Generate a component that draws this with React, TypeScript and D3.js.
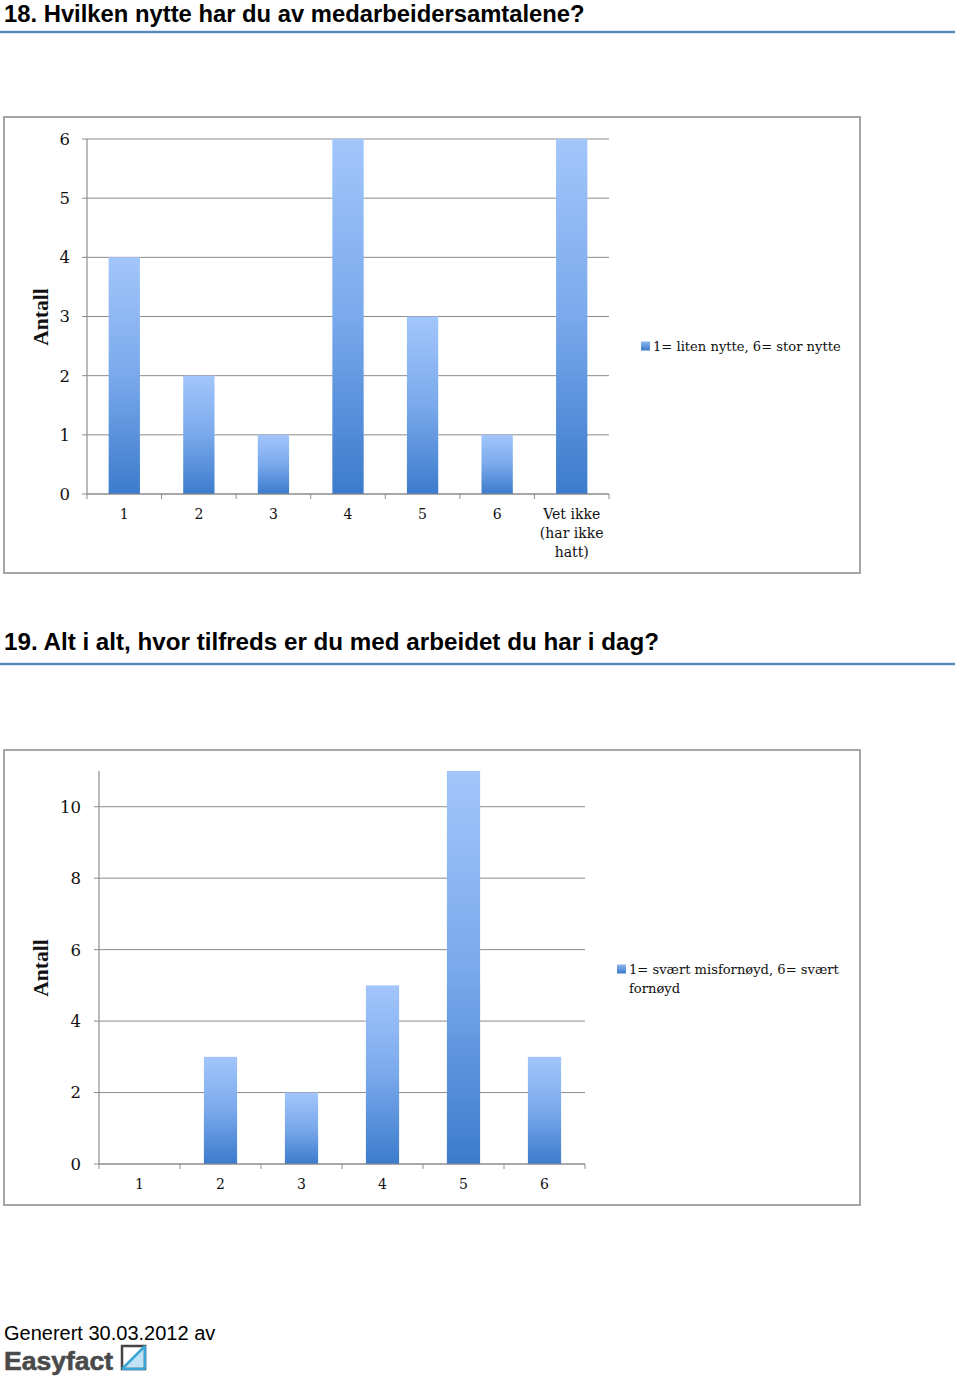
import React from "react";
import * as d3 from "d3";

const cats1 = ["1", "2", "3", "4", "5", "6", "Vet ikke|(har ikke|hatt)"];
const vals1 = [4, 2, 1, 6, 3, 1, 6];
const ticks1 = [0, 1, 2, 3, 4, 5, 6];
const legend1 = ["1= liten nytte, 6= stor nytte"];
const title1 = "18. Hvilken nytte har du av medarbeidersamtalene?";

const cats2 = ["1", "2", "3", "4", "5", "6"];
const vals2 = [0, 3, 2, 5, 11, 3];
const ticks2 = [0, 2, 4, 6, 8, 10];
const legend2 = ["1= svært misfornøyd, 6= svært", "fornøyd"];
const title2 = "19. Alt i alt, hvor tilfreds er du med arbeidet du har i dag?";

const SERIF = "'DejaVu Serif', 'Liberation Serif', serif";
const SERIF2 = "'Liberation Serif', serif";
const SANS = "'Liberation Sans', Arial, Helvetica, sans-serif";

type ChartProps = {
  id: string;
  box: [number, number, number, number];
  x0: number; x1: number; yTop: number; yBottom: number; yMax: number;
  cats: string[]; vals: number[]; ticks: number[];
  barFrac: number; labelX: number; labelY: number;
  legend: string[]; legX: number; legY: number; antallY: number;
};

function Chart(p: ChartProps) {
  const x = d3.scaleBand<string>().domain(p.cats).range([p.x0, p.x1]).paddingInner(0).paddingOuter(0);
  const y = d3.scaleLinear().domain([0, p.yMax]).range([p.yBottom, p.yTop]);
  const bw = x.bandwidth() * p.barFrac;
  const [bx, by, bwid, bh] = p.box;
  return (
    <g>
      <defs>
        <linearGradient id={p.id} x1="0" y1="0" x2="0" y2="1">
          <stop offset="0" stopColor="#a3c6fb" />
          <stop offset="0.5" stopColor="#7aa9ec" />
          <stop offset="1" stopColor="#3c7bcc" />
        </linearGradient>
        <linearGradient id={p.id + "leg"} x1="0" y1="0" x2="0" y2="1">
          <stop offset="0" stopColor="#8db5ef" />
          <stop offset="1" stopColor="#3c7bcc" />
        </linearGradient>
      </defs>
      <rect x={bx} y={by} width={bwid} height={bh} fill="#fff" stroke="#a6a6a6" strokeWidth={2} />
      {p.ticks.map((t) => (
        <g key={t}>
          <line x1={p.x0 - 5} x2={p.x1} y1={y(t)} y2={y(t)} stroke="#8c8c8c" strokeWidth={1} />
          <text x={p.labelX} y={y(t)} dy="0.36em" textAnchor="end" fontFamily={SERIF} fontSize={16.5} fill="#111">{t}</text>
        </g>
      ))}
      {p.cats.map((c, i) => {
        const v = p.vals[i];
        const cx = (x(c) as number) + x.bandwidth() / 2;
        return v > 0 ? (
          <rect key={"b" + i} x={cx - bw / 2} y={y(v)} width={bw} height={y(0) - y(v)} fill={`url(#${p.id})`} />
        ) : null;
      })}
      <line x1={p.x0} x2={p.x0} y1={p.yTop} y2={p.yBottom} stroke="#8c8c8c" strokeWidth={1.2} />
      <line x1={p.x0} x2={p.x1} y1={p.yBottom} y2={p.yBottom} stroke="#8c8c8c" strokeWidth={1.2} />
      {d3.range(p.cats.length + 1).map((i) => {
        const xx = p.x0 + i * x.bandwidth();
        return <line key={"t" + i} x1={xx} x2={xx} y1={p.yBottom} y2={p.yBottom + 5} stroke="#8c8c8c" />;
      })}
      {p.cats.map((c, i) => {
        const cx = (x(c) as number) + x.bandwidth() / 2;
        const lines = c.split("|");
        return (
          <text key={"l" + i} x={cx} y={p.labelY} textAnchor="middle" fontFamily={SERIF} fontSize={14} fill="#111">
            {lines.map((ln, j) => (
              <tspan key={j} x={cx} dy={j === 0 ? "0.36em" : 19}>{ln}</tspan>
            ))}
          </text>
        );
      })}
      <text transform={`translate(48,${p.antallY}) rotate(-90)`} textAnchor="middle" fontFamily={SERIF2} fontWeight="bold" fontSize={21.5} fill="#111">Antall</text>
      <rect x={p.legX} y={p.legY - 4.5} width={9} height={9} fill={`url(#${p.id}leg)`} />
      <text x={p.legX + 12} y={p.legY} fontFamily={SERIF} fontSize={13.1} fill="#111">
        {p.legend.map((ln, j) => (
          <tspan key={j} x={p.legX + 12} dy={j === 0 ? "0.36em" : 19}>{ln}</tspan>
        ))}
      </text>
    </g>
  );
}

export default function App() {
  return (
    <svg width={960} height={1377} style={{ position: "absolute", left: 0, top: 0, background: "#fff" }}>
      <rect width={960} height={1377} fill="#fff" />
      <text x={4} y={21.5} fontFamily={SANS} fontWeight="bold" fontSize={23.8} fill="#000">{title1}</text>
      <line x1={0} x2={955} y1={32} y2={32} stroke="#5b87ba" strokeWidth={2.5} />
      <Chart id="g1" box={[4, 117, 856, 456]} x0={87} x1={609} yTop={139} yBottom={494} yMax={6}
        cats={cats1} vals={vals1} ticks={ticks1} barFrac={0.42} labelX={70} labelY={514}
        legend={legend1} legX={641} legY={346} antallY={317} />
      <text x={4} y={650} fontFamily={SANS} fontWeight="bold" fontSize={24.2} fill="#000">{title2}</text>
      <line x1={0} x2={955} y1={664} y2={664} stroke="#5b87ba" strokeWidth={2.5} />
      <Chart id="g2" box={[4, 750, 856, 455]} x0={99} x1={585} yTop={771} yBottom={1164} yMax={11}
        cats={cats2} vals={vals2} ticks={ticks2} barFrac={0.41} labelX={81} labelY={1184}
        legend={legend2} legX={617} legY={969} antallY={968} />
      <text x={4} y={1340} fontFamily={SANS} fontSize={20} fill="#000">Generert 30.03.2012 av</text>
      <text x={4} y={1370} fontFamily={SANS} fontWeight="bold" fontSize={26.5} fill="#4a4a4a" stroke="#4a4a4a" strokeWidth={0.6}>Easyfact</text>
      <g>
        <polygon points="122,1369 145,1346 145,1369" fill="#bfe3f3" />
        <rect x={122} y={1346} width={23} height={23} fill="none" stroke="#444" strokeWidth={2.5} />
        <line x1={122} y1={1369} x2={145} y2={1346} stroke="#3aa6d6" strokeWidth={2.5} />
        <line x1={145} y1={1346} x2={145} y2={1369} stroke="#3aa6d6" strokeWidth={2.5} />
        <line x1={122} y1={1369} x2={145} y2={1369} stroke="#3aa6d6" strokeWidth={2.5} />
      </g>
    </svg>
  );
}
